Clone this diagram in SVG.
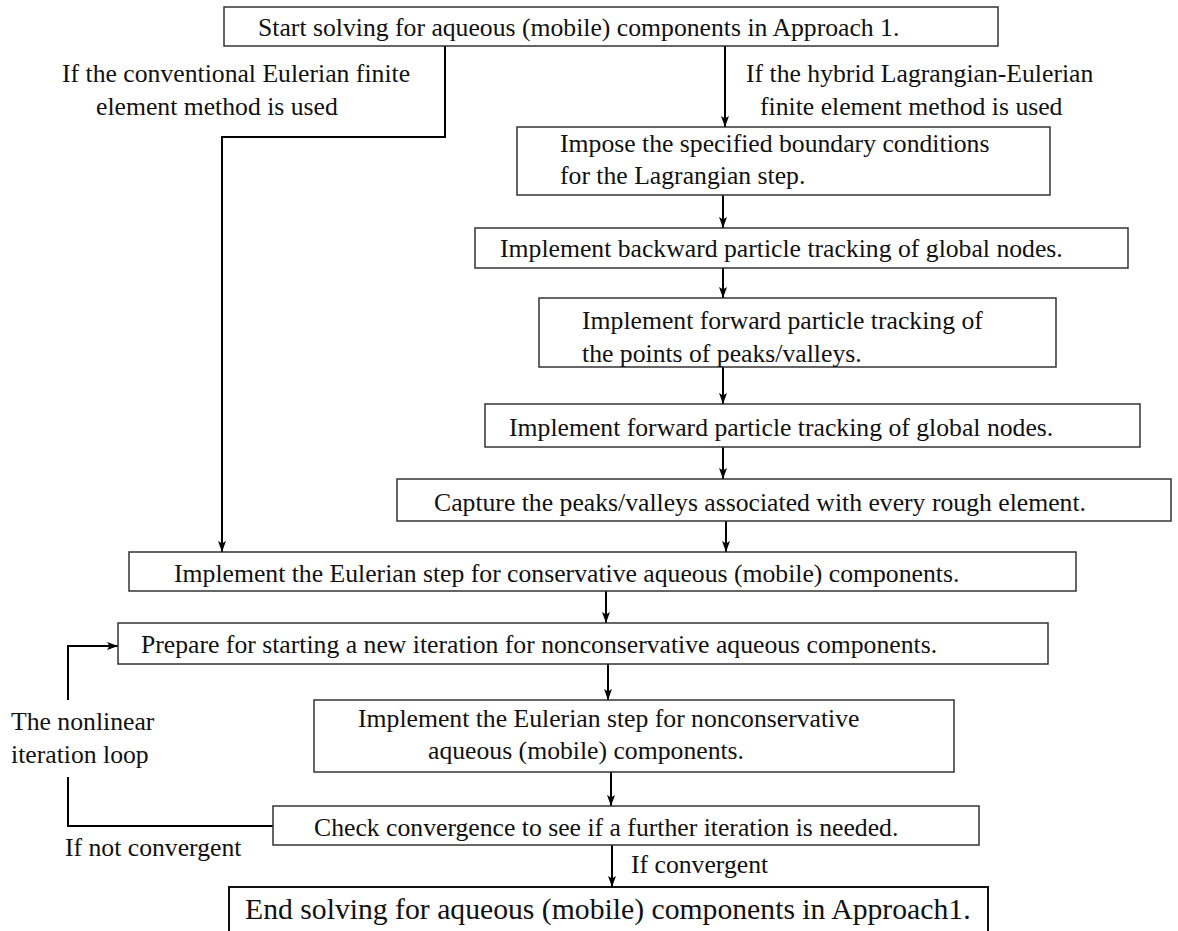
<svg xmlns="http://www.w3.org/2000/svg" width="1178" height="931" viewBox="0 0 1178 931">
<style>
.box{fill:#fff;stroke:#333;stroke-width:1.5}
.endbox{fill:#fff;stroke:#111;stroke-width:2}
.t{font-family:"Liberation Serif","Times New Roman",serif;font-size:25.7px;fill:#111}
.te{font-family:"Liberation Serif","Times New Roman",serif;font-size:29.7px;fill:#111}
.c{fill:none;stroke:#000;stroke-width:2}
</style>
<defs>
<marker id="ah" markerUnits="userSpaceOnUse" markerWidth="12" markerHeight="10" refX="11" refY="5" orient="auto">
<path d="M0,1 L11,5 L0,9 L2.5,5 z" fill="#000"/>
</marker>
</defs>
<rect width="1178" height="931" fill="#fff"/>
<g id="connectors">
<path class="c" d="M445,46 V137 H222 V552" marker-end="url(#ah)"/>
<path class="c" d="M725,46 V127" marker-end="url(#ah)"/>
<path class="c" d="M723,195 V228" marker-end="url(#ah)"/>
<path class="c" d="M723,268 V298" marker-end="url(#ah)"/>
<path class="c" d="M723,367 V404" marker-end="url(#ah)"/>
<path class="c" d="M723,447 V479" marker-end="url(#ah)"/>
<path class="c" d="M726,521 V552" marker-end="url(#ah)"/>
<path class="c" d="M606,591 V623" marker-end="url(#ah)"/>
<path class="c" d="M608,664 V700" marker-end="url(#ah)"/>
<path class="c" d="M611,772 V806" marker-end="url(#ah)"/>
<path class="c" d="M612,845 V887" marker-end="url(#ah)"/>
<path class="c" d="M273,826 H68 V777"/>
<path class="c" d="M68,700 V646 H118" marker-end="url(#ah)"/>
</g>
<g id="labels">
<text class="t" x="62" y="82">If the conventional Eulerian finite</text>
<text class="t" x="96" y="115">element method is used</text>
<text class="t" x="746" y="82">If the hybrid Lagrangian-Eulerian</text>
<text class="t" x="760" y="115">finite element method is used</text>
<text class="t" x="11" y="730">The nonlinear</text>
<text class="t" x="11" y="763">iteration loop</text>
<text class="t" x="65" y="856">If not convergent</text>
<text class="t" x="631" y="873">If convergent</text>
</g>
<g id="n1"><rect class="box" x="224" y="7" width="774" height="39"/>
<text class="t" x="258" y="36">Start solving for aqueous (mobile) components in Approach 1.</text></g>
<g id="n2"><rect class="box" x="517" y="127" width="533" height="68"/>
<text class="t" x="560" y="152">Impose the specified boundary conditions</text>
<text class="t" x="560" y="184">for the Lagrangian step.</text></g>
<g id="n3"><rect class="box" x="475" y="228" width="653" height="40"/>
<text class="t" x="500" y="257">Implement backward particle tracking of global nodes.</text></g>
<g id="n4"><rect class="box" x="539" y="298" width="517" height="69"/>
<text class="t" x="582" y="329">Implement forward particle tracking of</text>
<text class="t" x="582" y="362">the points of peaks/valleys.</text></g>
<g id="n5"><rect class="box" x="485" y="404" width="655" height="43"/>
<text class="t" x="509" y="436">Implement forward particle tracking of global nodes.</text></g>
<g id="n6"><rect class="box" x="397" y="479" width="774" height="42"/>
<text class="t" x="434" y="511">Capture the peaks/valleys associated with every rough element.</text></g>
<g id="n7"><rect class="box" x="129" y="552" width="947" height="39"/>
<text class="t" x="174" y="582">Implement the Eulerian step for conservative aqueous (mobile) components.</text></g>
<g id="n8"><rect class="box" x="118" y="623" width="930" height="41"/>
<text class="t" x="141" y="653">Prepare for starting a new iteration for nonconservative aqueous components.</text></g>
<g id="n9"><rect class="box" x="314" y="700" width="640" height="72"/>
<text class="t" x="358" y="727">Implement the Eulerian step for nonconservative</text>
<text class="t" x="428" y="759">aqueous (mobile) components.</text></g>
<g id="n10"><rect class="box" x="273" y="806" width="706" height="39"/>
<text class="t" x="314" y="836">Check convergence to see if a further iteration is needed.</text></g>
<g id="n11"><rect class="endbox" x="229" y="887" width="759" height="60"/>
<text class="te" x="245" y="919">End solving for aqueous (mobile) components in Approach1.</text></g>
</svg>
